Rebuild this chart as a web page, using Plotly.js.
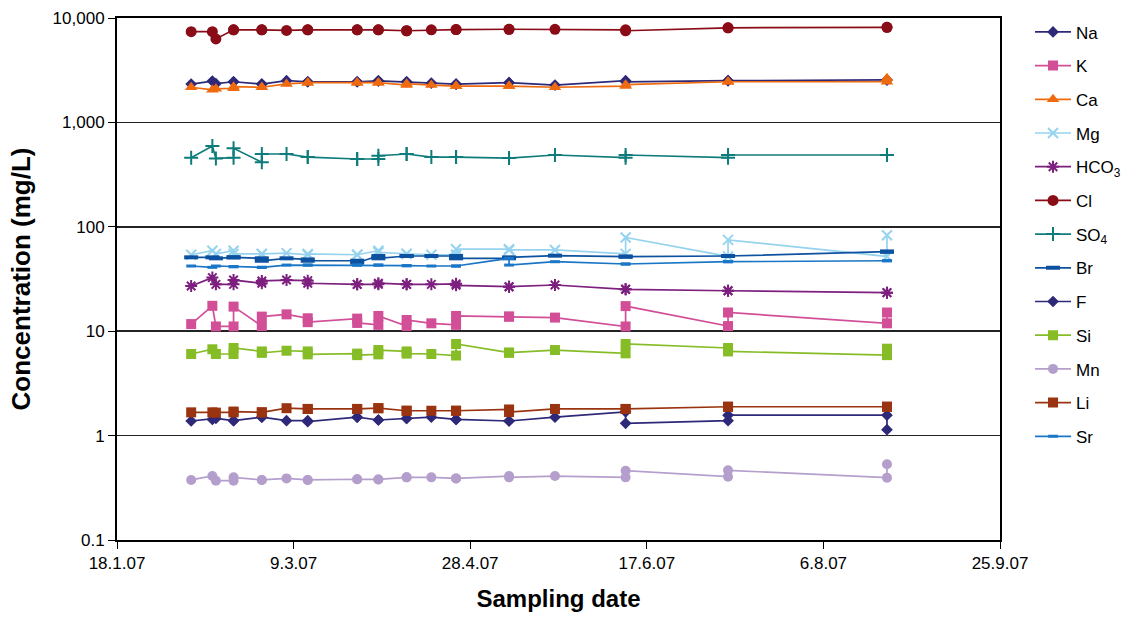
<!DOCTYPE html>
<html>
<head>
<meta charset="utf-8">
<script src="https://cdn.plot.ly/plotly-3.0.1.min.js"></script>
<style>
html,body{margin:0;padding:0;background:#fff;}
#chart{width:1138px;height:617px;}
</style>
</head>
<body>
<div id="chart"></div>
<script>
// Sampling dates (duplicates = two samples on the same day)
const dates = [
  '2007-02-08','2007-02-14','2007-02-15','2007-02-20','2007-02-20','2007-02-28','2007-02-28',
  '2007-03-07','2007-03-13','2007-03-13','2007-03-27','2007-03-27','2007-04-02','2007-04-02',
  '2007-04-10','2007-04-10','2007-04-17','2007-04-24','2007-04-24','2007-05-09','2007-05-09',
  '2007-05-22','2007-06-11','2007-06-11','2007-07-10','2007-07-10','2007-08-24','2007-08-24'
];

const Na   = [2330,2490,2350,2450,2450,2330,2330,2510,2450,2450,2450,2450,2500,2500,2450,2450,2380,2330,2330,2400,2400,2280,2510,2450,2510,2510,2550,2550];
const K    = [11.7,17.5,11.1,11.1,17.2,11.2,13.8,14.5,13.3,12.2,13.2,12.0,11.5,14.0,11.2,12.8,11.9,11.5,14.0,13.8,13.8,13.5,11.1,17.4,11.2,15.1,11.9,15.1];
const Ca   = [2170,2050,2100,2120,2200,2170,2170,2335,2400,2400,2400,2400,2400,2400,2280,2350,2280,2230,2230,2230,2230,2170,2230,2300,2450,2450,2450,2650];
const Mg   = [54,59,55,59,55,55,55,56,54,55,54,54,59,57,55,55,54,54,61,61,60,60,55,79,52,75,52,83];
const HCO3 = [27.1,32.6,28.1,28.1,30.9,28.8,30.3,30.9,30.5,28.8,28.1,28.1,28.1,28.8,28.1,28.1,28.1,28.4,27.5,26.7,26.7,27.7,25.2,25.2,24.4,24.4,23.4,23.4];
const Cl   = [7400,7400,6300,7700,7700,7700,7700,7600,7700,7700,7700,7700,7700,7700,7550,7550,7700,7750,7750,7800,7800,7800,7700,7550,8050,8050,8150,8150];
const SO4  = [459,594,452,459,565,415,498,498,465,465,446,446,446,480,498,498,465,465,465,455,455,487,459,487,459,487,487,487];
const Br   = [51.0,51.0,49.9,51.0,51.0,49.9,47.3,49.9,48.7,47.3,47.3,45.3,52.5,49.9,52.5,52.5,52.5,52.5,49.9,49.9,51.0,52.9,51.8,51.8,52.5,52.5,57.8,57.8];
const F    = [1.38,1.43,1.46,1.39,1.39,1.50,1.50,1.39,1.39,1.36,1.50,1.50,1.41,1.41,1.46,1.46,1.50,1.43,1.43,1.38,1.38,1.50,1.69,1.31,1.39,1.57,1.57,1.14];
const Si   = [6.05,6.71,6.05,6.05,6.9,6.4,6.2,6.5,6.4,6.0,6.1,5.9,6.0,6.6,6.4,6.1,6.05,5.85,7.54,6.23,6.23,6.6,6.14,7.54,6.9,6.4,5.9,6.8];
const Mn   = [0.376,0.410,0.370,0.370,0.398,0.376,0.376,0.389,0.376,0.376,0.382,0.382,0.380,0.380,0.398,0.398,0.398,0.389,0.389,0.410,0.398,0.410,0.398,0.461,0.404,0.465,0.395,0.531];
const Li   = [1.67,1.67,1.66,1.67,1.70,1.67,1.67,1.83,1.80,1.80,1.80,1.80,1.83,1.83,1.73,1.73,1.73,1.73,1.73,1.78,1.68,1.80,1.80,1.80,1.89,1.89,1.89,1.89];
const Sr   = [42.1,40.9,42.1,41.5,41.5,40.9,40.9,43.0,43.0,43.0,43.0,43.0,43.0,43.0,42.4,42.4,42.1,42.1,42.1,49.9,43.0,46.3,44.0,44.0,46.3,46.3,47.3,47.3];

const yTickVals = [0.1,1,10,100,1000,10000];
const yTickText = ['0.1','1','10','100','1,000','10,000'];
const xTickVals = ['2007-01-18','2007-03-09','2007-04-28','2007-06-17','2007-08-06','2007-09-25'];
const xTickText = ['18.1.07','9.3.07','28.4.07','17.6.07','6.8.07','25.9.07'];

const seriesDefs = [
  {name:'Na', y:Na, color:'#2d2878', symbol:'diamond', size:9},
  {name:'K', y:K, color:'#d24f98', symbol:'square', size:10},
  {name:'Ca', y:Ca, color:'#ef6a0f', symbol:'triangle-up', size:11},
  {name:'Mg', y:Mg, color:'#96d3ee', symbol:'x-thin-open', size:10, mlw:2},
  {name:'HCO<sub>3</sub>', y:HCO3, color:'#7c1f7e', symbol:'asterisk-open', size:10, mlw:2},
  {name:'Cl', y:Cl, color:'#8a0c16', symbol:'circle', size:11},
  {name:'SO<sub>4</sub>', y:SO4, color:'#0e7c7b', symbol:'cross-thin-open', size:10, mlw:2},
  {name:'Br', y:Br, color:'#0d52a0', symbol:'line-ew-open', size:10, mlw:4},
  {name:'F', y:F, color:'#2d2878', symbol:'diamond', size:9},
  {name:'Si', y:Si, color:'#86bd27', symbol:'square', size:10},
  {name:'Mn', y:Mn, color:'#b49fcc', symbol:'circle', size:10},
  {name:'Li', y:Li, color:'#9a3410', symbol:'square', size:10},
  {name:'Sr', y:Sr, color:'#1a76c6', symbol:'line-ew-open', size:7, mlw:3}
];

const traces = seriesDefs.map((s, i) => ({
  type:'scatter', mode:'lines+markers', x:dates, y:s.y, name:s.name,
  legendgroup:'g'+i,
  line:{color:s.color, width:1.7},
  marker:{symbol:s.symbol, size:s.size, color:s.color, line:{color:s.color, width:s.mlw||0}}
}));

const layout = {
  width:1138, height:617,
  margin:{l:117, r:126, t:18, b:77},
  paper_bgcolor:'#fff', plot_bgcolor:'#fff',
  font:{family:'"Liberation Sans", Arial, sans-serif', color:'#000'},
  showlegend:true,
  legend:{x:1.034, xanchor:'left', y:1.007, yanchor:'top', font:{size:17, color:'#000'},
          tracegroupgap:8.6, itemwidth:36, maxheight:600, bgcolor:'rgba(0,0,0,0)'},
  xaxis:{
    type:'date', range:['2007-01-18','2007-09-25'],
    tickmode:'array', tickvals:xTickVals, ticktext:xTickText,
    tickfont:{size:17}, ticks:'outside', ticklen:7, tickcolor:'#000', tickwidth:1,
    showline:true, linecolor:'#000', linewidth:2, mirror:true,
    showgrid:false, zeroline:false,
    title:{text:'<b>Sampling date</b>', font:{size:24}, standoff:18}
  },
  yaxis:{
    type:'log', range:[-1,4],
    tickmode:'array', tickvals:yTickVals, ticktext:yTickText,
    tickfont:{size:17}, ticks:'outside', ticklen:7, tickcolor:'#000', tickwidth:1,
    showline:true, linecolor:'#000', linewidth:2, mirror:true,
    showgrid:true, gridcolor:'#222', gridwidth:1.5, zeroline:false,
    title:{text:'<b>Concentration (mg/L)</b>', font:{size:26}, standoff:14}
  }
};

Plotly.newPlot('chart', traces, layout, {displayModeBar:false, staticPlot:true});
</script>
</body>
</html>
